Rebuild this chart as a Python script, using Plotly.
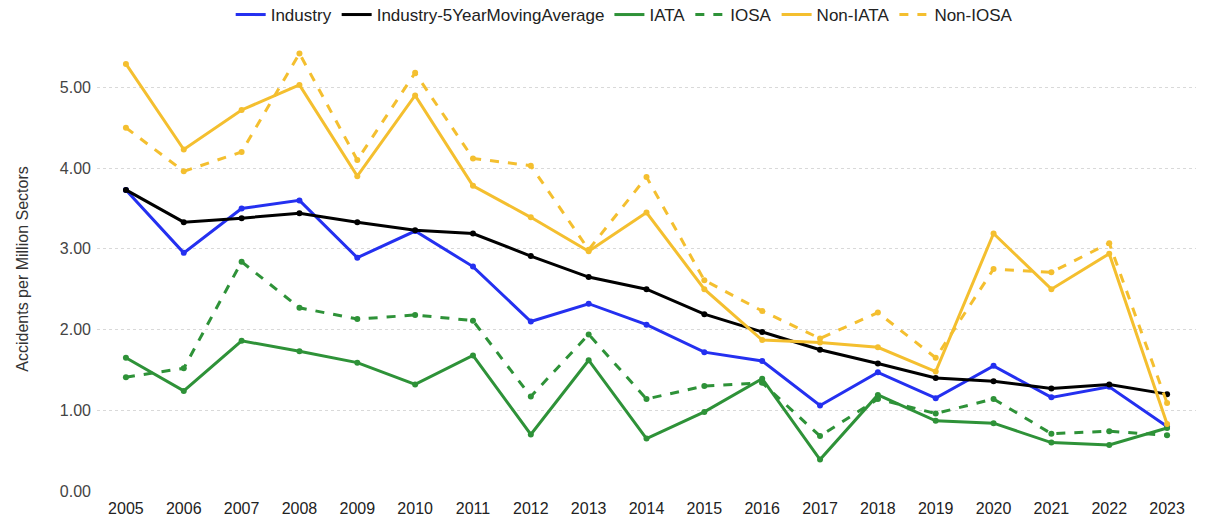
import plotly.graph_objects as go

years = [str(y) for y in range(2005, 2024)]

industry = [3.73, 2.95, 3.50, 3.60, 2.89, 3.22, 2.78, 2.10, 2.32, 2.06, 1.72, 1.61, 1.06, 1.47, 1.15, 1.55, 1.16, 1.29, 0.80]
industry_ma = [3.73, 3.33, 3.38, 3.44, 3.33, 3.23, 3.19, 2.91, 2.65, 2.50, 2.19, 1.97, 1.75, 1.58, 1.40, 1.36, 1.27, 1.32, 1.20]
iata = [1.65, 1.24, 1.86, 1.73, 1.59, 1.32, 1.68, 0.70, 1.62, 0.65, 0.98, 1.39, 0.39, 1.19, 0.87, 0.84, 0.60, 0.57, 0.78]
iosa = [1.41, 1.52, 2.84, 2.27, 2.13, 2.18, 2.11, 1.17, 1.94, 1.14, 1.30, 1.34, 0.68, 1.14, 0.96, 1.14, 0.71, 0.74, 0.69]
non_iata = [5.29, 4.23, 4.72, 5.03, 3.90, 4.90, 3.78, 3.39, 2.97, 3.45, 2.50, 1.87, 1.84, 1.78, 1.48, 3.19, 2.50, 2.94, 0.83]
non_iosa = [4.50, 3.96, 4.20, 5.42, 4.10, 5.18, 4.12, 4.03, 2.99, 3.89, 2.61, 2.23, 1.89, 2.21, 1.65, 2.75, 2.71, 3.07, 1.09]

y_ticks = [0, 1, 2, 3, 4, 5]
y_tick_labels = ["0.00", "1.00", "2.00", "3.00", "4.00", "5.00"]

BLUE = "#2430f0"
BLACK = "#000000"
GREEN = "#2e9238"
YELLOW = "#f4bf2f"

series = [
    ("Industry", industry, BLUE, "solid"),
    ("Industry-5YearMovingAverage", industry_ma, BLACK, "solid"),
    ("IATA", iata, GREEN, "solid"),
    ("IOSA", iosa, GREEN, "dash"),
    ("Non-IATA", non_iata, YELLOW, "solid"),
    ("Non-IOSA", non_iosa, YELLOW, "dash"),
]

fig = go.Figure()
for name, vals, color, dash in series:
    fig.add_trace(go.Scatter(
        x=years, y=vals, name=name, mode="lines+markers",
        line=dict(color=color, width=3, dash=dash),
        marker=dict(color=color, size=6),
        showlegend=False, legendgroup=name,
    ))
# legend entries drawn as plain line samples (no markers), like the reference
for name, vals, color, dash in series:
    fig.add_trace(go.Scatter(
        x=[None], y=[None], name=name, mode="lines",
        line=dict(color=color, width=3, dash=dash),
        showlegend=True, legendgroup=name,
    ))

fig.update_layout(
    width=1205, height=517,
    margin=dict(l=97, r=9, t=47, b=26, autoexpand=False),
    paper_bgcolor="white", plot_bgcolor="white",
    font=dict(family="Liberation Sans, Arial, sans-serif", size=16, color="#444444"),
    legend=dict(orientation="h", xref="container", x=0.518, xanchor="center",
                yref="container", y=0.971, yanchor="middle",
                font=dict(size=17, color="#222222"), itemwidth=30,
                traceorder="normal", tracegroupgap=0,
                bgcolor="rgba(0,0,0,0)"),
    showlegend=True,
)
fig.update_xaxes(type="category", showgrid=False, zeroline=False, showline=False,
                 tickfont=dict(size=16, color="#222222"), ticks="", range=[-0.5, 18.5],
                 automargin=False, ticklabelstandoff=6)
fig.update_yaxes(range=[0, 5.5], tickvals=y_ticks, ticktext=y_tick_labels,
                 showgrid=True, gridcolor="#d9d9d9", griddash="dot", gridwidth=1,
                 zeroline=False, showline=False, automargin=False, ticks="",
                 ticklabelstandoff=5,
                 title=dict(text="Accidents per Million Sectors", font=dict(size=16, color="#333333"), standoff=27),
                 tickfont=dict(size=16, color="#444444"))

fig.write_html("out.html", config={"displayModeBar": False},
               post_script="document.body.style.margin='0';")
